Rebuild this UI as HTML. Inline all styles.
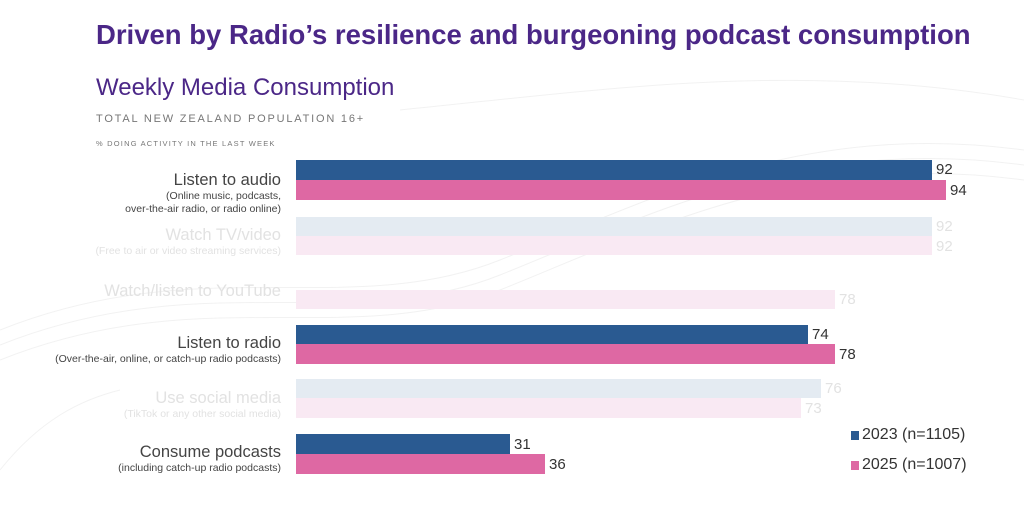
<!DOCTYPE html>
<html><head><style>
body{margin:0;width:1024px;height:521px;background:#fff;font-family:"Liberation Sans",sans-serif;position:relative;overflow:hidden}
.a{position:absolute;white-space:nowrap}
.bar{position:absolute;left:296px;height:20px}
.b{background:#2a5a91}.p{background:#de68a3}
.lb{background:#e4ebf2}.lp{background:#f9e9f3}
.lab{position:absolute;right:743px;text-align:right;white-space:nowrap}
.m{font-size:16.5px;line-height:19px}.s{font-size:10.5px;line-height:13px}
.v{position:absolute;font-size:15px;color:#333}
.f{color:#e2e2e2}
</style></head><body>
<svg class="a" style="left:0;top:0" width="1024" height="521">
<g fill="none" stroke="#f2f2f2" stroke-width="1">
<path d="M0 330 C200 250 350 320 500 260 S800 120 1024 150"/>
<path d="M0 345 C200 265 350 335 500 275 S800 135 1024 165"/>
<path d="M0 360 C200 280 350 350 500 290 S800 150 1024 180"/>
<path d="M400 110 C600 90 800 60 1024 100"/>
<path d="M0 470 C40 420 80 400 120 390"/>
</g></svg>
<div class="a" style="left:96px;top:19px;font-size:27.5px;font-weight:bold;color:#4b2787">Driven by Radio’s resilience and burgeoning podcast consumption</div>
<div class="a" style="left:96px;top:74px;font-size:24px;color:#4b2787">Weekly Media Consumption</div>
<div class="a" style="left:96px;top:113px;font-size:11px;letter-spacing:1.8px;color:#777">TOTAL NEW ZEALAND POPULATION 16+</div>
<div class="a" style="left:96px;top:139px;font-size:7.5px;letter-spacing:1.2px;color:#777">% DOING ACTIVITY IN THE LAST WEEK</div>

<div class="bar b" style="top:160px;width:636px"></div><div class="bar p" style="top:180px;width:650px"></div>
<div class="v" style="left:936px;top:161px">92</div><div class="v" style="left:950px;top:182px">94</div>
<div class="lab" style="top:171px;color:#444"><div class="m">Listen to audio</div><div class="s">(Online music, podcasts,<br>over-the-air radio, or radio online)</div></div>

<div class="bar lb" style="top:217px;width:636px;height:19px"></div><div class="bar lp" style="top:236px;width:636px;height:19px"></div>
<div class="v f" style="left:936px;top:218px">92</div><div class="v f" style="left:936px;top:238px">92</div>
<div class="lab f" style="top:226px"><div class="m">Watch TV/video</div><div class="s">(Free to air or video streaming services)</div></div>

<div class="bar lp" style="top:290px;width:539px;height:19px"></div>
<div class="v f" style="left:839px;top:291px">78</div>
<div class="lab f" style="top:282px"><div class="m">Watch/listen to YouTube</div></div>

<div class="bar b" style="top:325px;width:512px;height:19px"></div><div class="bar p" style="top:344px;width:539px"></div>
<div class="v" style="left:812px;top:326px">74</div><div class="v" style="left:839px;top:346px">78</div>
<div class="lab" style="top:334px;color:#444"><div class="m">Listen to radio</div><div class="s">(Over-the-air, online, or catch-up radio podcasts)</div></div>

<div class="bar lb" style="top:379px;width:525px;height:19px"></div><div class="bar lp" style="top:398px;width:505px"></div>
<div class="v f" style="left:825px;top:380px">76</div><div class="v f" style="left:805px;top:400px">73</div>
<div class="lab f" style="top:389px"><div class="m">Use social media</div><div class="s">(TikTok or any other social media)</div></div>

<div class="bar b" style="top:434px;width:214px"></div><div class="bar p" style="top:454px;width:249px"></div>
<div class="v" style="left:514px;top:436px">31</div><div class="v" style="left:549px;top:456px">36</div>
<div class="lab" style="top:443px;color:#444"><div class="m">Consume podcasts</div><div class="s">(including catch-up radio podcasts)</div></div>

<div class="a" style="left:851px;top:431px;width:8px;height:9px;background:#2a5a91"></div>
<div class="a" style="left:862px;top:426px;font-size:16px;color:#333">2023 (n=1105)</div>
<div class="a" style="left:851px;top:461px;width:8px;height:9px;background:#de68a3"></div>
<div class="a" style="left:862px;top:456px;font-size:16px;color:#333">2025 (n=1007)</div>
</body></html>
